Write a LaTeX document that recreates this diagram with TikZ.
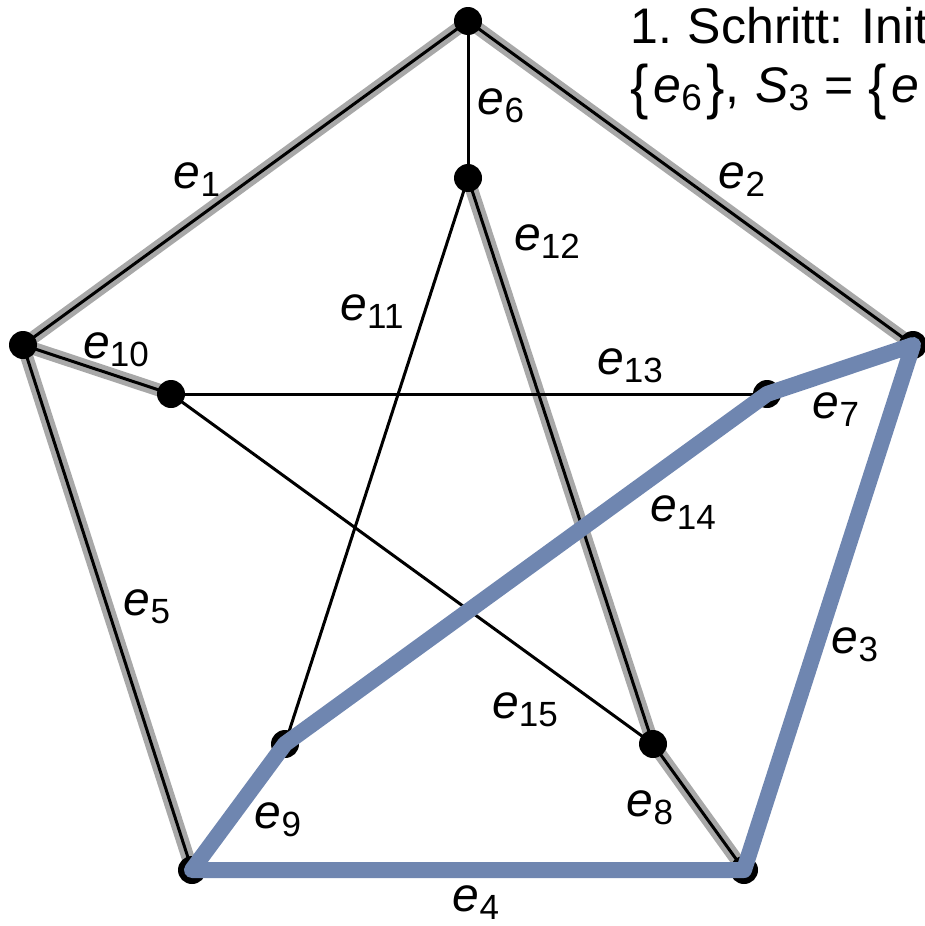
\documentclass[tikz,border=0pt]{standalone}
\usepackage{fontspec}
\usepackage{graphicx}
\setmainfont{Liberation Sans}
\pgfdeclarelayer{bg}
\pgfdeclarelayer{fg}
\pgfsetlayers{bg,main,fg}
\definecolor{pathblue}{HTML}{6F86B0}
\definecolor{hlgray}{HTML}{A8A8A8}
\newcommand\ed[1]{\textit{e}\raisebox{-8pt}{\fontsize{35}{35}\selectfont #1}}
\newcommand\bigbr[1]{\raisebox{-5pt}{\scalebox{1.1}[1.2]{#1}}}
\newcommand\subsc[1]{\raisebox{-8pt}{\fontsize{37}{37}\selectfont #1}}
\tikzset{
  vtx/.style={circle,fill=black,minimum size=28pt,inner sep=0pt},
  hl/.style={draw=hlgray,line width=13pt,line cap=round},
  edge/.style={draw=black,line width=3pt},
  sel/.style={draw=pathblue,line width=16pt,line join=round,line cap=round},
  lbl/.style={inner sep=0pt,font=\fontsize{48}{56}\selectfont},
  txt/.style={inner sep=0pt,anchor=base west,font=\fontsize{50}{58}\selectfont}
}
\begin{document}
\begin{tikzpicture}[x=1pt,y=-1pt]
\useasboundingbox (0,0) rectangle (924,926);
% vertices
\node[vtx] (o1) at (468,21) {};
\node[vtx] (o2) at (913,345) {};
\node[vtx] (o3) at (744,870) {};
\node[vtx] (o4) at (192,870) {};
\node[vtx] (o5) at (23,345) {};
\node[vtx] (i1) at (468,178) {};
\node[vtx] (i2) at (767,394) {};
\node[vtx] (i3) at (653,744) {};
\node[vtx] (i4) at (285,744) {};
\node[vtx] (i5) at (171,394) {};
\begin{pgfonlayer}{bg}
  % gray highlight
  \path[hl] (o1.center) -- (o5.center);
  \path[hl] (o1.center) -- (o2.center);
  \path[hl] (o4.center) -- (o5.center);
  \path[hl] (o3.center) -- (i3.center);
  \path[hl] (o5.center) -- (i5.center);
  \path[hl] (i1.center) -- (i3.center);
  % all edges
  \path[edge] (o1.center) -- (o5.center);
  \path[edge] (o1.center) -- (o2.center);
  \path[edge] (o2.center) -- (o3.center);
  \path[edge] (o3.center) -- (o4.center);
  \path[edge] (o4.center) -- (o5.center);
  \path[edge] (o1.center) -- (i1.center);
  \path[edge] (o2.center) -- (i2.center);
  \path[edge] (o3.center) -- (i3.center);
  \path[edge] (o4.center) -- (i4.center);
  \path[edge] (o5.center) -- (i5.center);
  \path[edge] (i1.center) -- (i4.center);
  \path[edge] (i1.center) -- (i3.center);
  \path[edge] (i5.center) -- (i2.center);
  \path[edge] (i2.center) -- (i4.center);
  \path[edge] (i5.center) -- (i3.center);
\end{pgfonlayer}
\begin{pgfonlayer}{fg}
  \path[sel] (o4.center) -- (i4.center) -- (i2.center) -- (o2.center) -- (o3.center) -- cycle;
\end{pgfonlayer}
% labels
\node[lbl] (l1) at (197,180) {\ed{1}};
\node[lbl] (l2) at (742,180) {\ed{2}};
\node[lbl] (l3) at (855,645) {\ed{3}};
\node[lbl] (l4) at (476,903) {\ed{4}};
\node[lbl] (l5) at (147,607) {\ed{5}};
\node[lbl] (l6) at (501,106) {\ed{6}};
\node[lbl] (l7) at (836,410) {\ed{7}};
\node[lbl] (l8) at (650,808) {\ed{8}};
\node[lbl] (l9) at (278,820) {\ed{9}};
\node[lbl] (l10) at (116,350) {\ed{10}};
\node[lbl] (l11) at (372,312) {\ed{11}};
\node[lbl] (l12) at (547,242) {\ed{12}};
\node[lbl] (l13) at (630,366) {\ed{13}};
\node[lbl] (l14) at (683,513) {\ed{14}};
\node[lbl] (l15) at (525,710) {\ed{15}};
% heading text (cut off at the right edge)
\node[txt] (t1) at (630,43) {1.\hspace{16pt}Schritt:\hspace{18pt}Initialisierung};
\node[txt] (t2) at (630,102) {\bigbr{\{}\kern5pt\textit{e}\subsc{6}\kern5pt\bigbr{\}},\kern16pt\textit{S}\subsc{3}\kern15pt=\kern15pt\bigbr{\{}\kern5pt\textit{e}};
\end{tikzpicture}
\end{document}
